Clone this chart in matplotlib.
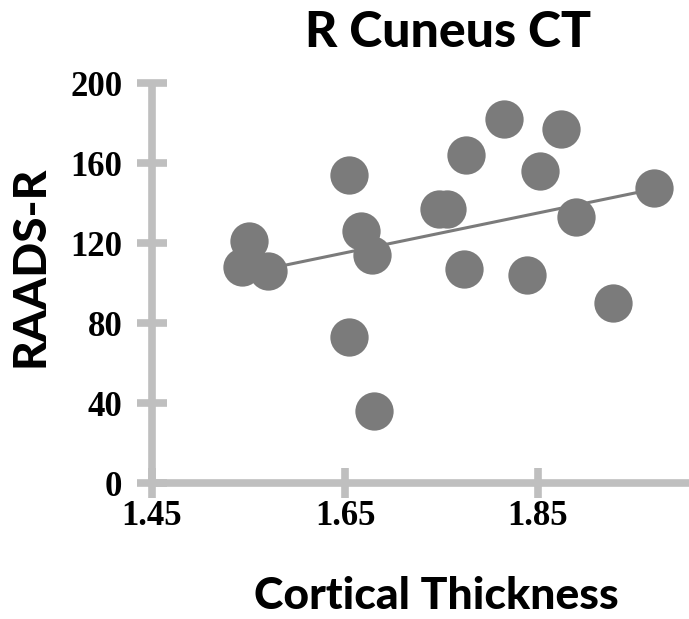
# R Cuneus CT scatter with linear trendline
import numpy as np
import matplotlib
matplotlib.use("Agg")
import matplotlib.pyplot as plt

# data
cortical_thickness = [1.543, 1.551, 1.570, 1.654, 1.654, 1.667, 1.678, 1.680,
                      1.747, 1.756, 1.775, 1.773, 1.815, 1.852, 1.874, 1.839,
                      1.889, 1.928, 1.970]
raads_r = [108, 121, 106, 154, 73, 126, 114, 36,
           137, 137, 164, 107, 182, 156, 177, 104,
           133, 90, 147.5]
x_ticks = [1.45, 1.65, 1.85]
y_ticks = [0, 40, 80, 120, 160, 200]

AXIS_GREY = "#bfbfbf"
DOT_GREY = "#7b7b7b"
sans = ["Lato", "DejaVu Sans"]

fig = plt.figure(figsize=(6.89, 6.19), dpi=100)
ax = fig.add_axes([152 / 689, 1 - 483 / 619, 537 / 689, 400 / 619])

x = np.array(cortical_thickness)
y = np.array(raads_r)
ax.scatter(x, y, s=760, color=DOT_GREY, zorder=3, clip_on=False, linewidths=0)

# linear trendline over the data range
slope, icpt = np.polyfit(x, y, 1)
xs = np.array([x.min(), x.max()])
ax.plot(xs, slope * xs + icpt, color=DOT_GREY, lw=2.2, zorder=2)

ax.set_xlim(1.45, 1.45 + 537 / 965)
ax.set_ylim(0, 200)
ax.set_xticks(x_ticks)
ax.set_xticklabels([f"{t:.2f}" for t in x_ticks])
ax.set_yticks(y_ticks)

for side in ["top", "right"]:
    ax.spines[side].set_visible(False)
for side in ["left", "bottom"]:
    ax.spines[side].set_color(AXIS_GREY)
    ax.spines[side].set_linewidth(5.5)
    ax.spines[side].set_capstyle("butt")

ax.tick_params(direction="inout", length=21, width=5.5, color=AXIS_GREY,
               labelsize=25)
ax.tick_params(axis="y", pad=11)
ax.tick_params(axis="x", pad=2)
for lab in ax.get_xticklabels() + ax.get_yticklabels():
    lab.set_family("Liberation Serif")
    lab.set_fontweight("bold")

fig.text(0.650, 0.947, "R Cuneus CT", ha="center", va="center",
         fontsize=36, fontweight="black", family=sans)
fig.text(0.044, 0.57, "RAADS-R", ha="center", va="center", rotation=90,
         fontsize=33, fontweight="black", family=sans)
fig.text(0.633, 0.037, "Cortical Thickness", ha="center", va="center",
         fontsize=32, fontweight="black", family=sans)

fig.savefig("out.png", dpi=100)
